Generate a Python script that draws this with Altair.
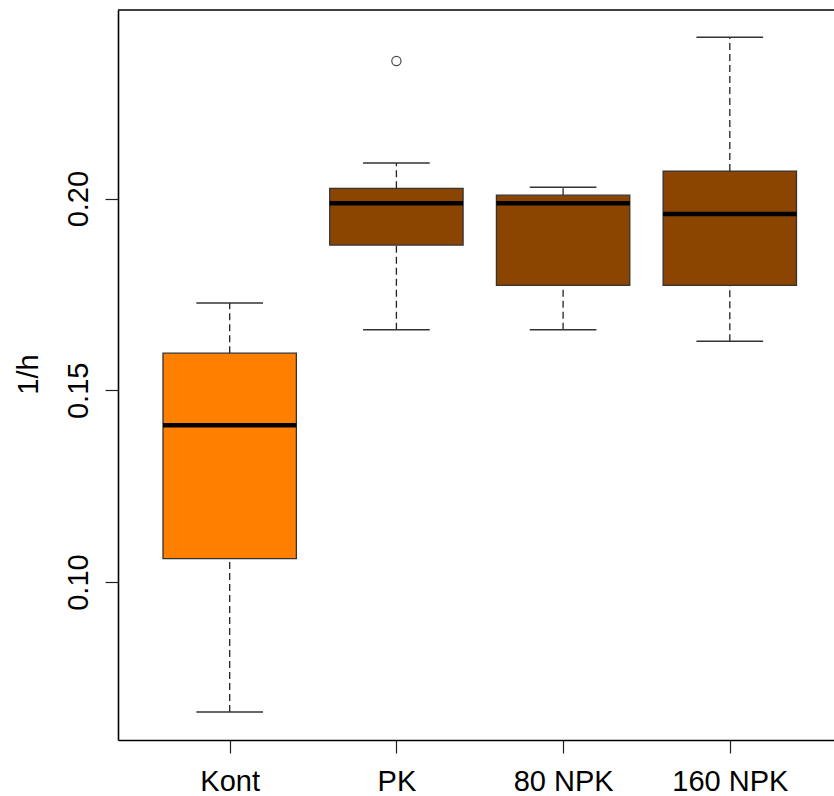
import altair as alt
import pandas as pd

# Growth rate (1/h) per treatment, five-number summaries
groups = ["Kont", "PK", "80 NPK", "160 NPK"]
positions = [1, 2, 3, 4]
whisker_low = [0.0661, 0.1658, 0.1658, 0.1628]
q1 = [0.1061, 0.1879, 0.1774, 0.1774]
median = [0.1409, 0.1988, 0.1988, 0.1960]
q3 = [0.1597, 0.2027, 0.2009, 0.2072]
whisker_high = [0.1728, 0.2093, 0.2030, 0.2421]
fill_colors = ["#FF8000", "#8B4500", "#8B4500", "#8B4500"]

# Outlying observations
outlier_group = ["PK"]
outlier_value = [0.2359]

y_ticks = [0.10, 0.15, 0.20]
y_domain = [0.0588, 0.2492]
x_domain = [0.33, 4.625]

FONT = "Liberation Sans"
FS = 29
PLOT_W = 716
PLOT_H = 730

box_df = pd.DataFrame({
    "group": groups,
    "pos": positions,
    "lo": whisker_low,
    "q1": q1,
    "med": median,
    "q3": q3,
    "hi": whisker_high,
    "fill": fill_colors,
})
out_df = pd.DataFrame({"group": outlier_group, "value": outlier_value})
out_df["pos"] = out_df["group"].map(dict(zip(groups, positions)))

label_expr = "".join(
    f"datum.value == {p} ? '{g}' : " for p, g in zip(positions, groups)
) + "''"

x_scale = alt.Scale(domain=x_domain, nice=False, zero=False)
y_scale = alt.Scale(domain=y_domain, nice=False, zero=False)

x_axis = alt.Axis(
    values=positions, labelExpr=label_expr, title=None, grid=False,
    domain=True, domainColor="black", domainWidth=1.6,
    tickSize=13, tickColor="#222222", tickWidth=1.2, labelFont=FONT, labelFontSize=FS,
    labelColor="black", labelBaseline="alphabetic", labelPadding=37,
    labelAlign="center", labelAngle=0,
)
y_axis = alt.Axis(
    values=y_ticks, format=".2f", title="1/h", grid=False,
    domain=True, domainColor="black", domainWidth=1.6,
    tickSize=13, tickColor="#222222", tickWidth=1.2, labelFont=FONT, labelFontSize=FS,
    labelColor="black", labelAngle=270, labelAlign="center", labelBaseline="alphabetic",
    labelPadding=18, titleFont=FONT, titleFontSize=FS, titleFontWeight="normal",
    titleColor="black", titleAngle=270, titleAlign="center", titleBaseline="alphabetic",
    titleX=-81, titleY=364,
)

base = alt.Chart(box_df).transform_calculate(
    left="datum.pos - 0.4",
    right="datum.pos + 0.4",
    cap_l="datum.pos - 0.2",
    cap_r="datum.pos + 0.2",
)

whisker_up = base.mark_rule(color="#222222", strokeWidth=1.3, strokeDash=[7, 4]).encode(
    x=alt.X("pos:Q", scale=x_scale, axis=x_axis),
    y=alt.Y("q3:Q", scale=y_scale, axis=y_axis),
    y2="hi:Q",
)
whisker_down = base.mark_rule(color="#222222", strokeWidth=1.3, strokeDash=[7, 4]).encode(
    x=alt.X("pos:Q", scale=x_scale),
    y=alt.Y("lo:Q", scale=y_scale),
    y2="q1:Q",
)
cap_hi = base.mark_rule(color="#333333", strokeWidth=1.5).encode(
    x=alt.X("cap_l:Q", scale=x_scale), x2="cap_r:Q",
    y=alt.Y("hi:Q", scale=y_scale),
)
cap_lo = base.mark_rule(color="#333333", strokeWidth=1.5).encode(
    x=alt.X("cap_l:Q", scale=x_scale), x2="cap_r:Q",
    y=alt.Y("lo:Q", scale=y_scale),
)
boxes = base.mark_rect(stroke="#333333", strokeWidth=1.3).encode(
    x=alt.X("left:Q", scale=x_scale), x2="right:Q",
    y=alt.Y("q1:Q", scale=y_scale), y2="q3:Q",
    fill=alt.Fill("fill:N", scale=None),
)
medians = base.mark_rule(color="black", strokeWidth=4.5).encode(
    x=alt.X("left:Q", scale=x_scale), x2="right:Q",
    y=alt.Y("med:Q", scale=y_scale),
)
outliers = alt.Chart(out_df).mark_point(
    shape="circle", filled=False, color="black", size=85, strokeWidth=1.2
).encode(
    x=alt.X("pos:Q", scale=x_scale),
    y=alt.Y("value:Q", scale=y_scale),
)

# Top edge of the plot frame (the right edge runs off the figure)
frame_top = alt.Chart(box_df.head(1)).mark_rule(color="black", strokeWidth=1.6).encode(
    x=alt.value(0), x2=alt.value(PLOT_W), y=alt.value(0)
)

chart = alt.layer(
    whisker_up, whisker_down, cap_hi, cap_lo, boxes, medians, outliers, frame_top
).properties(
    width=PLOT_W,
    height=PLOT_H,
    autosize=alt.AutoSizeParams(type="none"),
    padding={"left": 118, "top": 10, "right": 0, "bottom": 56},
    background="white",
).configure_view(
    stroke=None
)

chart.save("out.html", embed_options={"renderer": "svg", "actions": False})
